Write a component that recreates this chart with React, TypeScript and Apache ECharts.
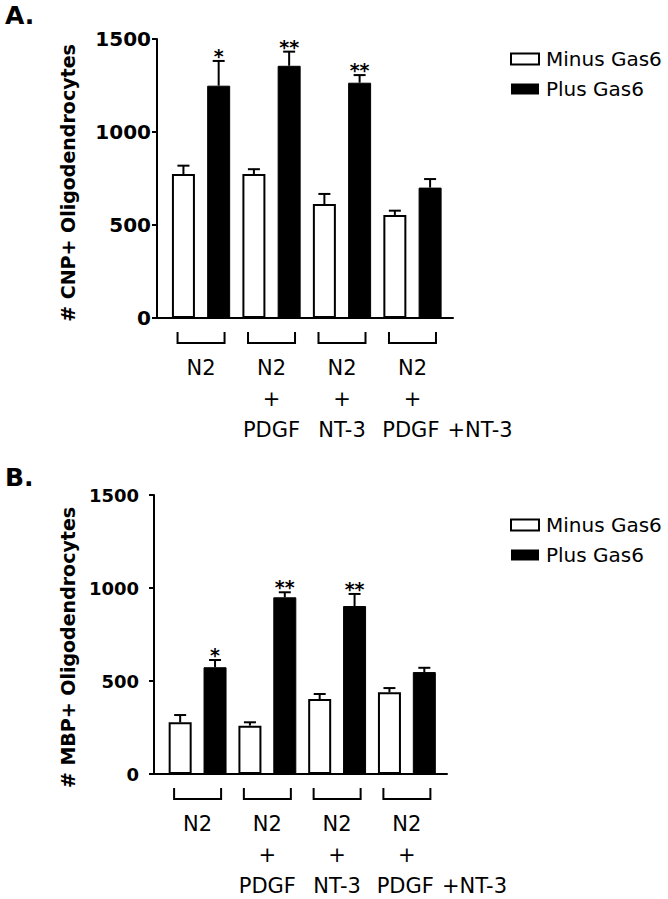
import React, { useEffect, useRef } from "react";
import * as echarts from "echarts";

// ---- data ----
const categories = ["N2", "N2 + PDGF", "N2 + NT-3", "N2 + PDGF +NT-3"];
// label lines under each bracket; a 4th entry is appended to the right of the 3rd line
const labelLines = [["N2"], ["N2", "+", "PDGF"], ["N2", "+", "NT-3"], ["N2", "+", "PDGF", "+NT-3"]];
const seriesNames = ["Minus Gas6", "Plus Gas6"];
const yTicks = [0, 500, 1000, 1500];

// Panel A: # CNP+ Oligodendrocytes
const cnpMinus = [774, 774, 613, 554];
const cnpMinusErr = [45, 26, 54, 23];
const cnpPlus = [1249, 1356, 1265, 701];
const cnpPlusErr = [133, 76, 41, 46];
const cnpStars = ["*", "**", "**", ""];

// Panel B: # MBP+ Oligodendrocytes
const mbpMinus = [278, 260, 403, 439];
const mbpMinusErr = [39, 18, 27, 23];
const mbpPlus = [574, 950, 903, 548];
const mbpPlusErr = [39, 27, 65, 23];
const mbpStars = ["*", "**", "**", ""];

const FONT = '"DejaVu Sans", "Liberation Sans", Arial, sans-serif';

type Panel = {
  title: string;
  yName: string;
  minus: number[];
  minusErr: number[];
  plus: number[];
  plusErr: number[];
  stars: string[];
  grid: { left: number; top: number; width: number; height: number };
  labelSize: number;
  labelMargin: number;
  nameGap: number;
  namePad: number[];
  titleTop: number;
  legendTop: number;
};

const panels: Panel[] = [
  {
    title: "A.",
    yName: "# CNP+ Oligodendrocytes",
    minus: cnpMinus,
    minusErr: cnpMinusErr,
    plus: cnpPlus,
    plusErr: cnpPlusErr,
    stars: cnpStars,
    grid: { left: 157, top: 39, width: 296, height: 279 },
    labelSize: 20,
    labelMargin: 6,
    nameGap: 80,
    namePad: [0, 9, 0, 0],
    titleTop: 3,
    legendTop: 44,
  },
  {
    title: "B.",
    yName: "# MBP+ Oligodendrocytes",
    minus: mbpMinus,
    minusErr: mbpMinusErr,
    plus: mbpPlus,
    plusErr: mbpPlusErr,
    stars: mbpStars,
    grid: { left: 154, top: 495, width: 293, height: 279 },
    labelSize: 18,
    labelMargin: 15,
    nameGap: 77,
    namePad: [0, 26, 0, 0],
    titleTop: 465,
    legendTop: 510,
  },
];

function buildOption() {
  const grids: any[] = [];
  const xAxes: any[] = [];
  const yAxes: any[] = [];
  const series: any[] = [];
  const titles: any[] = [];
  const legends: any[] = [];

  panels.forEach((p, pi) => {
    grids.push({ ...p.grid, containLabel: false });
    xAxes.push({
      type: "value",
      gridIndex: pi,
      min: -0.75,
      max: 7.65,
      axisLine: { show: true, onZero: false, lineStyle: { color: "#000", width: 2 } },
      axisTick: { show: false },
      axisLabel: { show: false },
      splitLine: { show: false },
    });
    yAxes.push({
      type: "value",
      gridIndex: pi,
      min: yTicks[0],
      max: yTicks[yTicks.length - 1],
      interval: yTicks[1] - yTicks[0],
      name: p.yName,
      nameLocation: "middle",
      nameRotate: 90,
      nameGap: p.nameGap,
      nameTextStyle: {
        fontFamily: FONT,
        fontWeight: "bold",
        fontSize: 19,
        color: "#000",
        padding: p.namePad,
      },
      axisLine: { show: true, onZero: false, lineStyle: { color: "#000", width: 2 } },
      axisTick: { show: true, inside: false, length: 5, lineStyle: { color: "#000", width: 2 } },
      axisLabel: {
        margin: p.labelMargin,
        fontFamily: FONT,
        fontWeight: "bold",
        fontSize: p.labelSize,
        color: "#000",
        formatter: (v: number) => String(v),
      },
      splitLine: { show: false },
    });

    series.push({
      name: seriesNames[0],
      type: "bar",
      xAxisIndex: pi,
      yAxisIndex: pi,
      barWidth: 23,
      barGap: "-100%",
      silent: true,
      itemStyle: { color: "#fff", borderColor: "#000", borderWidth: 2 },
      data: p.minus.map((v, g) => [2 * g, v]),
    });
    series.push({
      name: seriesNames[1],
      type: "bar",
      xAxisIndex: pi,
      yAxisIndex: pi,
      barWidth: 23,
      barGap: "-100%",
      silent: true,
      itemStyle: { color: "#000", borderColor: "#000", borderWidth: 1 },
      data: p.plus.map((v, g) => [2 * g + 1, v]),
    });

    const errData: number[][] = [];
    const errStars: string[] = [];
    categories.forEach((_c, g) => {
      errData.push([2 * g, p.minus[g], p.minusErr[g]]);
      errStars.push("");
      errData.push([2 * g + 1, p.plus[g], p.plusErr[g]]);
      errStars.push(p.stars[g]);
    });
    series.push({
      type: "custom",
      xAxisIndex: pi,
      yAxisIndex: pi,
      silent: true,
      clip: false,
      z: 5,
      encode: { x: 0, y: 1 },
      data: errData,
      renderItem: (params: any, api: any) => {
        const x = api.value(0);
        const v = api.value(1);
        const e = api.value(2);
        const p0 = api.coord([x, v]);
        const p1 = api.coord([x, v + e]);
        const star = errStars[params.dataIndex];
        const children: any[] = [
          {
            type: "line",
            shape: { x1: p0[0], y1: p0[1], x2: p0[0], y2: p1[1] },
            style: { stroke: "#000", lineWidth: 2 },
          },
          {
            type: "line",
            shape: { x1: p0[0] - 6, y1: p1[1], x2: p0[0] + 6, y2: p1[1] },
            style: { stroke: "#000", lineWidth: 2 },
          },
        ];
        if (star) {
          children.push({
            type: "text",
            style: {
              text: star,
              x: p0[0],
              y: p1[1] - 5,
              align: "center",
              verticalAlign: "middle",
              fontFamily: FONT,
              fontWeight: "bold",
              fontSize: 19,
              fill: "#000",
            },
          });
        }
        return { type: "group", children };
      },
    });

    // brackets + group labels
    series.push({
      type: "custom",
      xAxisIndex: pi,
      yAxisIndex: pi,
      silent: true,
      clip: false,
      encode: { x: 0, y: 1 },
      data: categories.map((_c, g) => [2 * g + 0.5, 0]),
      renderItem: (params: any, api: any) => {
        const c = api.coord([api.value(0), api.value(1)]);
        const cx = c[0];
        const by = c[1];
        const lines = labelLines[params.dataIndex];
        const children: any[] = [
          {
            type: "polyline",
            shape: {
              points: [
                [cx - 23.5, by + 14],
                [cx - 23.5, by + 25],
                [cx + 23.5, by + 25],
                [cx + 23.5, by + 14],
              ],
            },
            style: { stroke: "#000", lineWidth: 2, fill: null },
          },
        ];
        const base = { fontFamily: FONT, fontSize: 21, fill: "#000", verticalAlign: "middle" };
        lines.slice(0, 3).forEach((t, i) => {
          const hasSuffix = i === 2 && lines.length > 3;
          children.push({
            type: "text",
            style: {
              ...base,
              text: t,
              x: hasSuffix ? cx + 27 : cx,
              y: by + 50 + 31 * i,
              align: hasSuffix ? "right" : "center",
            },
          });
          if (hasSuffix) {
            children.push({
              type: "text",
              style: { ...base, text: lines[3], x: cx + 35, y: by + 50 + 31 * i, align: "left" },
            });
          }
        });
        return { type: "group", children };
      },
    });

    titles.push({
      text: p.title,
      left: 5,
      top: p.titleTop,
      padding: 0,
      textStyle: { fontFamily: FONT, fontWeight: "bold", fontSize: 25, color: "#000" },
    });

    legends.push({
      orient: "vertical",
      left: 505,
      top: p.legendTop,
      itemWidth: 28,
      itemHeight: 11,
      itemGap: 10,
      selectedMode: false,
      icon: "rect",
      textStyle: { fontFamily: FONT, fontSize: 20, color: "#000", padding: [0, 0, 0, 2] },
      data: [
        { name: seriesNames[0], itemStyle: { color: "#fff", borderColor: "#000", borderWidth: 2 } },
        { name: seriesNames[1], itemStyle: { color: "#000", borderColor: "#000", borderWidth: 0 } },
      ],
    });
  });

  return {
    animation: false,
    backgroundColor: "#fff",
    title: titles,
    legend: legends,
    grid: grids,
    xAxis: xAxes,
    yAxis: yAxes,
    series,
  };
}

export default function App() {
  const ref = useRef<HTMLDivElement>(null);
  useEffect(() => {
    if (!ref.current) return;
    const chart = echarts.init(ref.current, undefined, { renderer: "svg" });
    chart.setOption(buildOption() as any);
    return () => chart.dispose();
  }, []);
  return (
    <div
      ref={ref}
      style={{ position: "fixed", left: 0, top: 0, width: 668, height: 899, background: "#fff" }}
    />
  );
}
